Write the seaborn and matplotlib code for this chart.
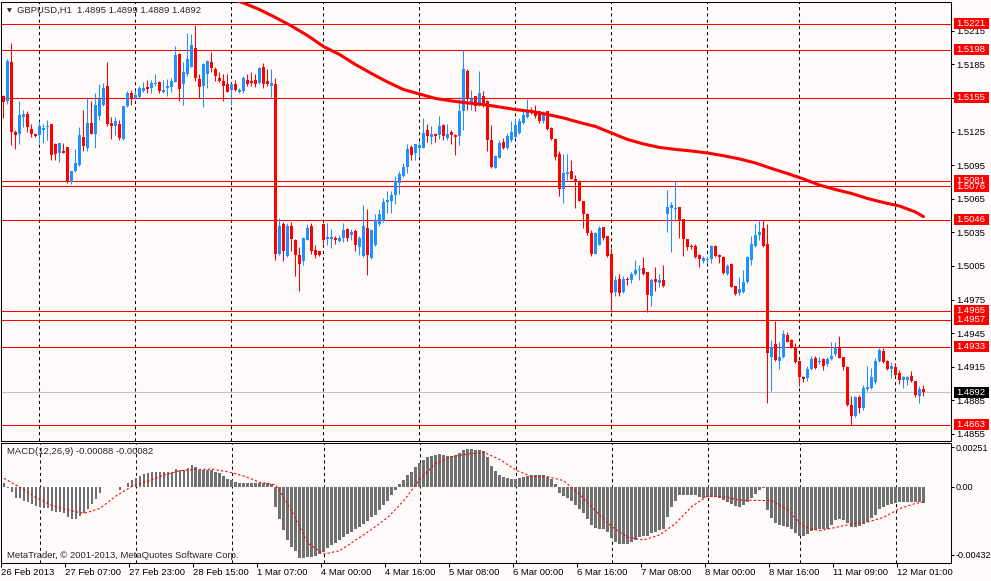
import matplotlib
matplotlib.use("Agg")
import matplotlib.pyplot as plt
import matplotlib.transforms as mtransforms
from matplotlib.patches import Rectangle
import numpy as np
import seaborn as sns

# GBPUSD H1 bars (bar index 0 = 26 Feb 15:00)
opens = [
    1.5157, 1.5152, 1.5187, 1.5125, 1.5123, 1.5138, 1.5141, 1.5127, 1.5123, 1.5122,
    1.5126, 1.5129, 1.5132, 1.5114, 1.5106, 1.5108, 1.5111, 1.5080, 1.5090, 1.5095,
    1.5120, 1.5110, 1.5133, 1.5123, 1.5139, 1.5149, 1.5166, 1.5133, 1.5130, 1.5132,
    1.5118, 1.5148, 1.5159, 1.5155, 1.5156, 1.5161, 1.5165, 1.5164, 1.5167, 1.5169,
    1.5160, 1.5164, 1.5165, 1.5169, 1.5194, 1.5167, 1.5176, 1.5183, 1.5200, 1.5172,
    1.5166, 1.5176, 1.5187, 1.5181, 1.5173, 1.5170, 1.5167, 1.5162, 1.5167, 1.5160,
    1.5161, 1.5171, 1.5170, 1.5171, 1.5168, 1.5183, 1.5170, 1.5166, 1.5167, 1.5016,
    1.5042, 1.5014, 1.5041, 1.5028, 1.5015, 1.5009, 1.5028, 1.5041, 1.5019, 1.5018,
    1.5042, 1.5029, 1.5029, 1.5030, 1.5027, 1.5030, 1.5038, 1.5033, 1.5036, 1.5022,
    1.5014, 1.5039, 1.5012, 1.5024, 1.5042, 1.5045, 1.5062, 1.5063, 1.5068, 1.5079,
    1.5085, 1.5093, 1.5111, 1.5106, 1.5110, 1.5110, 1.5126, 1.5120, 1.5123, 1.5122,
    1.5131, 1.5119, 1.5125, 1.5122, 1.5121, 1.5143, 1.5179, 1.5150, 1.5157, 1.5149,
    1.5157, 1.5152, 1.5117, 1.5092, 1.5101, 1.5116, 1.5110, 1.5117, 1.5120, 1.5124,
    1.5133, 1.5138, 1.5144, 1.5143, 1.5143, 1.5134, 1.5143, 1.5128, 1.5118, 1.5105,
    1.5074, 1.5087, 1.5090, 1.5083, 1.5081, 1.5063, 1.5051, 1.5034, 1.5016, 1.5024,
    1.5040, 1.5032, 1.5016, 1.4982, 1.4993, 1.4982, 1.4993, 1.4992, 1.4998, 1.5001,
    1.5003, 1.5000, 1.4978, 1.4993, 1.4990, 1.4992, 1.5051, 1.5057, 1.5056, 1.5058,
    1.5047, 1.5029, 1.5023, 1.5023, 1.5015, 1.5009, 1.5010, 1.5011, 1.5023, 1.5015,
    1.5013, 1.4998, 1.5007, 1.4987, 1.4981, 1.4982, 1.4991, 1.5010, 1.5023, 1.5033,
    1.5039, 1.5025, 1.4924, 1.4935, 1.4920, 1.4924, 1.4943, 1.4939, 1.4933, 1.4920,
    1.4906, 1.4905, 1.4913, 1.4923, 1.4919, 1.4922, 1.4917, 1.4922, 1.4926, 1.4932,
    1.4924, 1.4915, 1.4881, 1.4871, 1.4888, 1.4878, 1.4895, 1.4896, 1.4901, 1.4920,
    1.4929, 1.4920, 1.4913, 1.4915, 1.4909, 1.4903, 1.4903, 1.4907, 1.4902, 1.4889,
    1.4895,
]
highs = [
    1.5158, 1.5190, 1.5204, 1.5126, 1.5152, 1.5144, 1.5143, 1.5132, 1.5124, 1.5134,
    1.5132, 1.5135, 1.5132, 1.5115, 1.5115, 1.5115, 1.5111, 1.5090, 1.5109, 1.5129,
    1.5144, 1.5156, 1.5152, 1.5159, 1.5167, 1.5168, 1.5187, 1.5138, 1.5138, 1.5135,
    1.5148, 1.5161, 1.5162, 1.5162, 1.5166, 1.5169, 1.5171, 1.5171, 1.5176, 1.5170,
    1.5171, 1.5172, 1.5173, 1.5201, 1.5195, 1.5187, 1.5213, 1.5212, 1.5220, 1.5176,
    1.5186, 1.5189, 1.5196, 1.5183, 1.5178, 1.5176, 1.5176, 1.5168, 1.5171, 1.5164,
    1.5175, 1.5176, 1.5178, 1.5176, 1.5183, 1.5186, 1.5181, 1.5181, 1.5173, 1.5048,
    1.5044, 1.5043, 1.5044, 1.5029, 1.5022, 1.5031, 1.5042, 1.5043, 1.5024, 1.5018,
    1.5043, 1.5043, 1.5038, 1.5032, 1.5033, 1.5043, 1.5039, 1.5038, 1.5038, 1.5032,
    1.5059, 1.5056, 1.5038, 1.5051, 1.5056, 1.5066, 1.5072, 1.5072, 1.5085, 1.5090,
    1.5097, 1.5114, 1.5113, 1.5114, 1.5116, 1.5137, 1.5132, 1.5130, 1.5124, 1.5139,
    1.5132, 1.5132, 1.5126, 1.5123, 1.5156, 1.5198, 1.5181, 1.5162, 1.5157, 1.5179,
    1.5161, 1.5153, 1.5131, 1.5104, 1.5117, 1.5119, 1.5124, 1.5134, 1.5137, 1.5137,
    1.5145, 1.5154, 1.5147, 1.5149, 1.5143, 1.5143, 1.5143, 1.5129, 1.5118, 1.5108,
    1.5105, 1.5105, 1.5100, 1.5086, 1.5082, 1.5063, 1.5052, 1.5037, 1.5035, 1.5041,
    1.5040, 1.5032, 1.5021, 1.4996, 1.4998, 1.4996, 1.4995, 1.5000, 1.5010, 1.5006,
    1.5013, 1.5000, 1.4994, 1.5004, 1.4998, 1.5006, 1.5073, 1.5062, 1.5081, 1.5058,
    1.5047, 1.5029, 1.5025, 1.5025, 1.5016, 1.5014, 1.5013, 1.5024, 1.5024, 1.5016,
    1.5014, 1.5007, 1.5008, 1.4987, 1.4995, 1.5001, 1.5014, 1.5032, 1.5042, 1.5046,
    1.5046, 1.5042, 1.4939, 1.4956, 1.4937, 1.4948, 1.4946, 1.4940, 1.4936, 1.4920,
    1.4907, 1.4916, 1.4925, 1.4925, 1.4924, 1.4923, 1.4924, 1.4937, 1.4937, 1.4942,
    1.4924, 1.4916, 1.4889, 1.4889, 1.4890, 1.4899, 1.4916, 1.4914, 1.4923, 1.4932,
    1.4932, 1.4921, 1.4919, 1.4918, 1.4912, 1.4907, 1.4907, 1.4911, 1.4902, 1.4898,
    1.4899,
]
lows = [
    1.5137, 1.5150, 1.5113, 1.5109, 1.5114, 1.5129, 1.5125, 1.5120, 1.5120, 1.5115,
    1.5115, 1.5117, 1.5100, 1.5100, 1.5098, 1.5106, 1.5079, 1.5078, 1.5089, 1.5094,
    1.5108, 1.5108, 1.5123, 1.5110, 1.5135, 1.5148, 1.5130, 1.5118, 1.5122, 1.5117,
    1.5117, 1.5147, 1.5149, 1.5154, 1.5155, 1.5160, 1.5159, 1.5159, 1.5166, 1.5159,
    1.5159, 1.5157, 1.5160, 1.5169, 1.5152, 1.5149, 1.5175, 1.5183, 1.5170, 1.5155,
    1.5147, 1.5164, 1.5178, 1.5170, 1.5169, 1.5152, 1.5160, 1.5149, 1.5161, 1.5159,
    1.5159, 1.5166, 1.5166, 1.5165, 1.5167, 1.5164, 1.5166, 1.5156, 1.5010, 1.5015,
    1.5009, 1.5013, 1.5018, 1.4996, 1.4983, 1.5006, 1.5028, 1.5016, 1.5012, 1.5014,
    1.5025, 1.5024, 1.5021, 1.5025, 1.5026, 1.5026, 1.5027, 1.5028, 1.5018, 1.5015,
    1.5013, 1.4997, 1.5011, 1.5023, 1.5041, 1.5044, 1.5052, 1.5052, 1.5060, 1.5069,
    1.5084, 1.5088, 1.5100, 1.5100, 1.5103, 1.5110, 1.5116, 1.5114, 1.5116, 1.5118,
    1.5117, 1.5117, 1.5114, 1.5104, 1.5113, 1.5126, 1.5144, 1.5144, 1.5143, 1.5148,
    1.5147, 1.5108, 1.5092, 1.5092, 1.5101, 1.5109, 1.5109, 1.5116, 1.5119, 1.5123,
    1.5132, 1.5137, 1.5141, 1.5137, 1.5133, 1.5133, 1.5126, 1.5117, 1.5100, 1.5067,
    1.5061, 1.5082, 1.5083, 1.5057, 1.5063, 1.5039, 1.5033, 1.5014, 1.5016, 1.5024,
    1.5028, 1.5013, 1.4964, 1.4978, 1.4978, 1.4981, 1.4988, 1.4990, 1.4997, 1.4992,
    1.4997, 1.4964, 1.4969, 1.4983, 1.4986, 1.4986, 1.5035, 1.5017, 1.5045, 1.5030,
    1.5014, 1.5019, 1.5020, 1.5012, 1.5004, 1.5008, 1.5008, 1.5008, 1.5013, 1.5008,
    1.4998, 1.4997, 1.4986, 1.4979, 1.4979, 1.4981, 1.4990, 1.5006, 1.5022, 1.5028,
    1.5022, 1.4883, 1.4893, 1.4920, 1.4913, 1.4923, 1.4937, 1.4932, 1.4918, 1.4898,
    1.4901, 1.4902, 1.4912, 1.4913, 1.4917, 1.4912, 1.4916, 1.4921, 1.4925, 1.4923,
    1.4912, 1.4880, 1.4863, 1.4870, 1.4874, 1.4876, 1.4893, 1.4895, 1.4900, 1.4919,
    1.4918, 1.4912, 1.4905, 1.4907, 1.4900, 1.4896, 1.4899, 1.4901, 1.4888, 1.4883,
    1.4889,
]
closes = [
    1.5151, 1.5188, 1.5125, 1.5122, 1.5140, 1.5141, 1.5129, 1.5123, 1.5121, 1.5130,
    1.5128, 1.5130, 1.5104, 1.5105, 1.5115, 1.5106, 1.5081, 1.5090, 1.5097, 1.5122,
    1.5112, 1.5133, 1.5123, 1.5149, 1.5154, 1.5164, 1.5132, 1.5130, 1.5134, 1.5119,
    1.5148, 1.5159, 1.5155, 1.5158, 1.5164, 1.5164, 1.5163, 1.5168, 1.5168, 1.5161,
    1.5162, 1.5166, 1.5170, 1.5193, 1.5163, 1.5178, 1.5190, 1.5202, 1.5173, 1.5165,
    1.5185, 1.5188, 1.5182, 1.5175, 1.5170, 1.5166, 1.5160, 1.5167, 1.5162, 1.5162,
    1.5173, 1.5167, 1.5168, 1.5167, 1.5182, 1.5167, 1.5167, 1.5168, 1.5016, 1.5041,
    1.5018, 1.5041, 1.5029, 1.5015, 1.5007, 1.5030, 1.5039, 1.5018, 1.5015, 1.5015,
    1.5028, 1.5031, 1.5031, 1.5028, 1.5030, 1.5037, 1.5030, 1.5035, 1.5024, 1.5030,
    1.5041, 1.5015, 1.5037, 1.5046, 1.5051, 1.5062, 1.5064, 1.5068, 1.5081, 1.5087,
    1.5093, 1.5109, 1.5104, 1.5114, 1.5113, 1.5124, 1.5121, 1.5123, 1.5121, 1.5130,
    1.5121, 1.5123, 1.5122, 1.5120, 1.5143, 1.5181, 1.5155, 1.5154, 1.5148, 1.5159,
    1.5149, 1.5117, 1.5093, 1.5103, 1.5115, 1.5110, 1.5121, 1.5125, 1.5131, 1.5134,
    1.5140, 1.5144, 1.5142, 1.5139, 1.5134, 1.5140, 1.5127, 1.5118, 1.5102, 1.5074,
    1.5088, 1.5089, 1.5083, 1.5080, 1.5063, 1.5051, 1.5034, 1.5016, 1.5034, 1.5039,
    1.5030, 1.5014, 1.4981, 1.4992, 1.4981, 1.4993, 1.4992, 1.4998, 1.5001, 1.5002,
    1.4998, 1.4979, 1.4992, 1.4991, 1.4992, 1.4987, 1.5058, 1.5059, 1.5057, 1.5046,
    1.5029, 1.5022, 1.5022, 1.5013, 1.5011, 1.5012, 1.5011, 1.5023, 1.5014, 1.5013,
    1.4999, 1.5005, 1.4986, 1.4980, 1.4984, 1.4991, 1.5013, 1.5025, 1.5033, 1.5035,
    1.5023, 1.4927, 1.4933, 1.4921, 1.4924, 1.4944, 1.4937, 1.4932, 1.4919, 1.4906,
    1.4904, 1.4913, 1.4922, 1.4914, 1.4920, 1.4916, 1.4922, 1.4925, 1.4933, 1.4923,
    1.4915, 1.4881, 1.4871, 1.4888, 1.4878, 1.4896, 1.4897, 1.4906, 1.4920, 1.4930,
    1.4919, 1.4913, 1.4916, 1.4908, 1.4903, 1.4906, 1.4906, 1.4902, 1.4890, 1.4895,
    1.4892,
]

# thick red moving average, read every 4 bars
ma_bars = [56, 60, 64, 68, 72, 76, 80, 84, 88, 92, 96, 100, 104, 108, 112, 116, 120,
           124, 128, 132, 136, 140, 144, 148, 152, 156, 160, 164, 168, 172, 176, 180,
           184, 188, 192, 196, 200, 204, 208, 212, 216, 220, 224, 228, 230]
ma_vals = [1.52442, 1.52398, 1.52339, 1.52268, 1.52192, 1.52107, 1.52009, 1.51938,
           1.51848, 1.51768, 1.51692, 1.51625, 1.51585, 1.51545, 1.51523, 1.51505,
           1.51491, 1.51469, 1.51446, 1.51429, 1.51402, 1.51371, 1.51331, 1.51295,
           1.51237, 1.51179, 1.51139, 1.51108, 1.51090, 1.51076, 1.51058, 1.51034,
           1.51005, 1.50969, 1.50920, 1.50875, 1.50826, 1.50772, 1.50732, 1.50697,
           1.50652, 1.50616, 1.50585, 1.50531, 1.50490]

# MACD histogram, one value per bar, in units of 1e-5
macd_e5 = [
    21, -11, -32, -70, -74, -89, -95, -110, -123, -131,
    -134, -134, -155, -159, -163, -170, -195, -204, -204, -184,
    -170, -142, -110, -78, -42, -4, -4, -4, -4, -21,
    -4, 25, 42, 57, 70, 83, 89, 93, 93, 93,
    93, 93, 93, 110, 106, 106, 117, 138, 123, 106,
    106, 106, 106, 95, 85, 68, 47, 42, 32, 21,
    21, 21, 21, 21, 25, 25, 21, 15, -127, -208,
    -276, -339, -382, -407, -452, -452, -445, -445, -441, -428,
    -413, -392, -371, -356, -339, -322, -301, -286, -271, -254,
    -237, -216, -195, -180, -148, -117, -89, -53, -21, 17,
    42, 74, 95, 127, 148, 170, 187, 195, 201, 208,
    201, 195, 195, 201, 212, 233, 240, 240, 233, 233,
    229, 191, 134, 100, 74, 64, 57, 49, 49, 57,
    64, 70, 74, 74, 74, 74, 64, 47, 17, -38,
    -59, -74, -89, -117, -144, -170, -208, -244, -261, -267,
    -271, -286, -329, -350, -365, -367, -365, -354, -339, -318,
    -314, -314, -297, -286, -276, -271, -195, -131, -89, -55,
    -55, -55, -55, -55, -64, -70, -68, -64, -64, -70,
    -85, -95, -110, -123, -131, -117, -95, -74, -49, -21,
    -11, -148, -201, -233, -244, -250, -259, -271, -297, -314,
    -314, -301, -282, -276, -271, -271, -271, -244, -212, -208,
    -212, -229, -254, -259, -250, -237, -223, -201, -180, -144,
    -127, -117, -110, -102, -100, -95, -95, -95, -95, -100,
    -106,
]
# MACD signal (red dotted), read every 4 bars, units of 1e-5
sig_bars = [0, 4, 8, 12, 16, 20, 24, 28, 32, 36, 40, 44, 48, 52, 56, 60, 64, 68, 72,
            76, 80, 84, 88, 92, 96, 100, 104, 108, 112, 116, 120, 124, 128, 132, 136,
            140, 144, 148, 152, 156, 160, 164, 168, 172, 176, 180, 184, 188, 192, 196,
            200, 204, 208, 212, 216, 220, 224, 228, 230]
sig_e5 = [53, -4, -70, -119, -148, -170, -138, -59, 2, 36, 74, 102, 110, 112, 95, 68,
          28, 11, -155, -360, -428, -407, -339, -271, -195, -89, 47, 148, 191, 208,
          218, 174, 106, 64, 64, 38, -49, -155, -254, -322, -339, -307, -233, -127,
          -59, -64, -85, -87, -89, -148, -254, -280, -259, -237, -225, -195, -140,
          -106, -98]

line_levels = [1.5221, 1.5198, 1.5155, 1.5081, 1.5076, 1.5046, 1.4965, 1.4957, 1.4933, 1.4863]
bid_level = 1.4892
tag_levels = [1.4863, 1.4892, 1.4933, 1.4957, 1.4965, 1.5046, 1.5076, 1.5081, 1.5155, 1.5198, 1.5221]
price_ticks = [1.5215, 1.5185, 1.5155, 1.5125, 1.5095, 1.5065, 1.5035, 1.5005,
               1.4975, 1.4945, 1.4915, 1.4885, 1.4855]
macd_ticks = [0.00251, 0.0, -0.00432]
macd_tick_labels = ['0.00251', '0.00', '-0.00432']
day_bars = [9, 33, 57, 80, 104, 128, 152, 176, 199, 223]
date_bars = [0, 16, 32, 48, 64, 80, 96, 112, 128, 144, 160, 176, 192, 208, 224]
date_labels = ['26 Feb 2013', '27 Feb 07:00', '27 Feb 23:00', '28 Feb 15:00',
               '1 Mar 07:00', '4 Mar 00:00', '4 Mar 16:00', '5 Mar 08:00',
               '6 Mar 00:00', '6 Mar 16:00', '7 Mar 08:00', '8 Mar 00:00',
               '8 Mar 16:00', '11 Mar 09:00', '12 Mar 01:00']

BG = '#FFFAFA'
BULL = '#1E90FF'
BEAR = '#FF0000'
FS = 6.8

sns.set_theme(style='white', rc={'axes.facecolor': BG, 'figure.facecolor': BG,
                                 'axes.edgecolor': 'black', 'axes.linewidth': 0.75})
plt.rcParams['font.family'] = ['Liberation Sans', 'DejaVu Sans']

W, H = 991, 581
fig = plt.figure(figsize=(W / 100, H / 100), dpi=100)
ax = fig.add_axes([1 / W, (H - 440.5) / H, 950 / W, 438.5 / H])
ax2 = fig.add_axes([1 / W, (H - 562.5) / H, 950 / W, 119.8 / H])

o = np.array(opens)
h = np.array(highs)
l = np.array(lows)
c = np.array(closes)
x = np.arange(len(c))
cols = np.where(c >= o, BULL, BEAR)

ylo, yhi = 1.484912, 1.524064
min_body = (yhi - ylo) / 438.5

# price panel
for b in day_bars:
    ax.axvline(b, color='black', lw=0.75, ls=(0, (3, 3)), zorder=1)
for lv in line_levels:
    ax.axhline(lv, color='red', lw=0.75, zorder=2)
ax.axhline(bid_level, color='#C0C0C0', lw=0.75, zorder=2)

ax.vlines(x, l, h, colors=cols, lw=0.75, zorder=3)
ax.bar(x, np.maximum(np.abs(c - o), min_body), bottom=np.minimum(o, c), width=0.75,
       color=cols, lw=0, zorder=4)
sns.lineplot(x=ma_bars, y=ma_vals, ax=ax, color='red', lw=2.2, errorbar=None,
             zorder=5, sort=False)

ax.set_xlim(-0.625, 236.875)
ax.set_ylim(ylo, yhi)
ax.set_xticks([])
ax.set_yticks(price_ticks)
ax.set_yticklabels([f'{t:.4f}' for t in price_ticks])
ax.yaxis.tick_right()
ax.tick_params(axis='y', length=2.2, width=0.75, pad=1.5, labelsize=FS,
               colors='black', direction='out')
ax.set_xlabel('')
ax.set_ylabel('')

# price tags on the right
blend = mtransforms.blended_transform_factory(fig.transFigure, ax.transData)
half = 5.5 * (yhi - ylo) / 438.5
for lv in tag_levels:
    fc = 'black' if lv == bid_level else 'red'
    ax.add_patch(Rectangle((954 / W, lv - half), 35 / W, 2 * half, transform=blend,
                           facecolor=fc, edgecolor='none', clip_on=False, zorder=8))
    ax.text(956 / W, lv, f'{lv:.4f}', transform=blend, color='white', fontsize=FS,
            va='center', ha='left', clip_on=False, zorder=9)

# MACD panel
mh = np.array(macd_e5) * 1e-5
for b in day_bars:
    ax2.axvline(b, color='black', lw=0.75, ls=(0, (3, 3)), zorder=1)
ax2.bar(x, mh, width=0.7, color='#707070', lw=0, zorder=3)
sns.lineplot(x=sig_bars, y=np.array(sig_e5) * 1e-5, ax=ax2, color='red', lw=0.8,
             linestyle=(0, (2, 2)), errorbar=None, zorder=4, sort=False)
ax2.set_xlim(-0.625, 236.875)
ax2.set_ylim(-0.004821, 0.002798)
ax2.set_yticks(macd_ticks)
ax2.set_yticklabels(macd_tick_labels)
ax2.yaxis.tick_right()
ax2.tick_params(axis='y', length=2.2, width=0.75, pad=0.8, labelsize=6.5,
                colors='black', direction='out')
ax2.set_xticks([b - 0.75 for b in date_bars])
ax2.set_xticklabels(date_labels)
ax2.tick_params(axis='x', bottom=True, length=3, width=0.75, pad=1.2, labelsize=FS,
                colors='black', direction='out')
for lbl in ax2.get_xticklabels():
    lbl.set_ha('left')
ax2.set_xlabel('')
ax2.set_ylabel('')

# header texts
fig.text(7 / W, 1 - 10.5 / H, '\u25BC', fontsize=4.5, va='center', ha='left',
         family=['DejaVu Sans'])
fig.text(17 / W, 1 - 10.5 / H, 'GBPUSD,H1  1.4895 1.4899 1.4889 1.4892',
         fontsize=FS, va='center', ha='left')
fig.text(7 / W, 1 - 452 / H, 'MACD(12,26,9) -0.00088 -0.00082', fontsize=FS,
         va='center', ha='left')
fig.text(7 / W, 1 - 556 / H, 'MetaTrader, \u00A9 2001-2013, MetaQuotes Software Corp.',
         fontsize=FS, va='center', ha='left')

fig.savefig('out.png', dpi=100, facecolor=BG)
